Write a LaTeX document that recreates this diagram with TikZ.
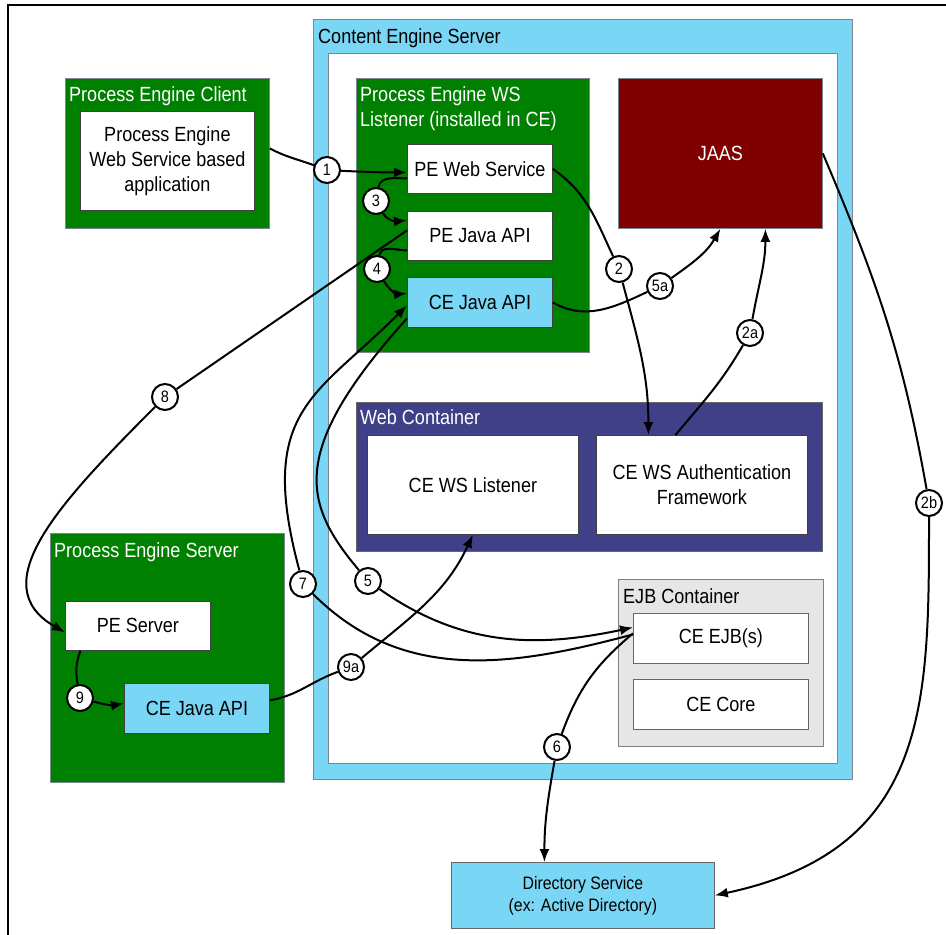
\documentclass[tikz,border=0pt]{standalone}
\usepackage{fontspec}
\setmainfont{Liberation Sans}[FakeStretch=0.88]
\usetikzlibrary{arrows.meta}

\definecolor{skyb}{RGB}{122,214,245}
\definecolor{pegreen}{RGB}{0,128,0}
\definecolor{jaasred}{RGB}{128,0,0}
\definecolor{webblue}{RGB}{64,64,136}
\definecolor{ejbgray}{RGB}{230,230,230}
\definecolor{frameg}{RGB}{125,135,145}

\begin{document}
\begin{tikzpicture}[x=1pt,y=1pt,
  font=\fontsize{20.5}{25}\selectfont,
  region/.style={draw=frameg, line width=0.8pt, inner sep=0pt, anchor=north west},
  inbox/.style={draw=black!75, line width=0.8pt, inner sep=0pt, anchor=north west, align=center},
  ttl/.style={inner sep=0pt, anchor=base west},
  num/.style={circle, draw=black, line width=2pt, fill=white, minimum size=26pt, inner sep=0pt, font=\fontsize{16.5}{16.5}\selectfont},
  conn/.style={line width=2pt},
  arr/.style={conn, -{Latex[length=13pt,width=10pt]}},
]
\useasboundingbox (0,0) rectangle (946,-935);

% outer frame (top and left)
\coordinate (fr1) at (946,-5);
\coordinate (fr2) at (8,-5);
\coordinate (fr3) at (8,-935);
\draw[line width=1.4pt] (fr1) -- (fr2) -- (fr3);

% Content Engine Server
\node[region, fill=skyb, minimum width=539pt, minimum height=760pt] (ces) at (313,-19) {};
\node[region, fill=white, minimum width=509pt, minimum height=710pt] (cesin) at (328,-53) {};
\node[ttl] (cest) at (318,-43) {Content Engine Server};

% Process Engine Client
\node[region, fill=pegreen, minimum width=204pt, minimum height=150pt] (pec) at (65,-78) {};
\node[ttl, text=white] (pect) at (69,-101) {Process Engine Client};
\node[inbox, fill=white, minimum width=174pt, minimum height=99pt] (pecapp) at (80,-111) {Process Engine\\Web Service based\\application};

% PE WS Listener
\node[region, fill=pegreen, minimum width=233pt, minimum height=274pt] (wsl) at (356,-78) {};
\node[ttl, text=white] (wslt1) at (360,-101) {Process Engine WS};
\node[ttl, text=white] (wslt2) at (360,-126) {Listener (installed in CE)};
\node[inbox, fill=white, minimum width=145pt, minimum height=49pt] (pews) at (407,-144) {PE Web Service};
\node[inbox, fill=white, minimum width=145pt, minimum height=49pt] (pejava) at (407,-211) {PE Java API};
\node[inbox, fill=skyb, minimum width=145pt, minimum height=50pt] (cejava) at (407,-277) {CE Java API};

% JAAS
\node[region, fill=jaasred, text=white, minimum width=204pt, minimum height=150pt] (jaas) at (618,-78) {JAAS};

% Web Container
\node[region, draw=black!60, fill=webblue, minimum width=466pt, minimum height=149pt] (webc) at (356,-402) {};
\node[ttl, text=white] (webct) at (360,-424) {Web Container};
\node[inbox, fill=white, minimum width=211pt, minimum height=99pt] (wslis) at (367,-435) {CE WS Listener};
\node[inbox, fill=white, minimum width=211pt, minimum height=99pt] (wsauth) at (596,-435) {CE WS Authentication\\Framework};

% EJB Container
\node[region, draw=black!50, fill=ejbgray, minimum width=205pt, minimum height=167pt] (ejbc) at (618,-579) {};
\node[ttl] (ejbct) at (623,-603) {EJB Container};
\node[inbox, draw=black!60, fill=white, minimum width=175pt, minimum height=50pt] (ejbs) at (633,-613) {CE EJB(s)};
\node[inbox, draw=black!60, fill=white, minimum width=175pt, minimum height=50pt] (core) at (633,-679) {CE Core};

% Process Engine Server
\node[region, fill=pegreen, minimum width=234pt, minimum height=249pt] (pes) at (50,-533) {};
\node[ttl, text=white] (pest) at (54,-557) {Process Engine Server};
\node[inbox, fill=white, minimum width=145pt, minimum height=49pt] (peserver) at (65,-601) {PE Server};
\node[inbox, fill=skyb, minimum width=145pt, minimum height=50pt] (pesjava) at (124,-683) {CE Java API};

% Directory Service
\node[inbox, draw=black!60, fill=skyb, minimum width=263pt, minimum height=66pt, font=\fontsize{18}{22}\selectfont] (dir) at (451,-862) {Directory Service\\(ex: Active Directory)};

% numbered circles
\node[num] (n1) at (327,-170) {1};
\node[num] (n3) at (376,-201) {3};
\node[num] (n4) at (377,-269) {4};
\node[num] (n2) at (619,-269) {2};
\node[num] (n5a) at (660,-286) {5a};
\node[num] (n2a) at (750,-333) {2a};
\node[num] (n8) at (165,-397) {8};
\node[num] (n2b) at (929,-503) {2b};
\node[num] (n7) at (303,-584) {7};
\node[num] (n5) at (368,-581) {5};
\node[num] (n9a) at (351,-667) {9a};
\node[num] (n9) at (80,-698) {9};
\node[num] (n6) at (557,-747) {6};

% connectors
\draw[conn] ([yshift=5pt]pec.east) to[out=-28,in=160] (n1);
\draw[arr] (n1) to[out=-3,in=180] ([yshift=-3.5pt]pews.west);

\draw[conn] ([yshift=-9.5pt]pews.west) to[out=180,in=80] (n3);
\draw[arr] (n3) to[out=-60,in=185] ([yshift=15.5pt]pejava.west);

\draw[conn] ([yshift=-14.5pt]pejava.west) to[out=180,in=80] (n4);
\draw[arr] (n4) to[out=-60,in=185] ([yshift=9pt]cejava.west);

\draw[conn] (pews.east) to[out=-35,in=115] (n2);
\draw[arr] (n2) to[out=-75,in=90] ([xshift=-53.5pt]wsauth.north);

\draw[conn] (cejava.east) to[out=-30,in=205] (n5a);
\draw[arr] (n5a) to[out=35,in=240] (jaas.south);

\draw[conn] ([xshift=-26.5pt]wsauth.north) to[out=50,in=240] (n2a);
\draw[arr] (n2a) to[out=80,in=-90] ([xshift=45pt]jaas.south);

\draw[conn] (jaas.east) to[out=-67,in=100] (n2b);
\draw[arr] (n2b) .. controls +(-90:200) and +(12:220) .. (dir.east);

\draw[conn] ([yshift=5.5pt]pejava.west) -- (n8);
\draw[arr] (n8) .. controls +(225:150) and +(150:95) .. ([yshift=-6.5pt]peserver.west);

\draw[conn] ([xshift=-57.5pt]peserver.south) to[out=-110,in=100] (n9);
\draw[arr] (n9) to[out=-15,in=190] ([yshift=5pt]pesjava.west);

\draw[conn] ([yshift=8pt]pesjava.east) to[out=10,in=200] (n9a);
\draw[arr] (n9a) to[out=40,in=245] (wslis.south);

\draw[conn] ([yshift=-16pt]cejava.west) .. controls +(228:180) and +(130:100) .. (n5);
\draw[arr] (n5) to[out=-35,in=192] ([yshift=11pt]ejbs.west);

\draw[conn] ([yshift=4pt]ejbs.west) to[out=195,in=-45] (n7);
\draw[arr] (n7) .. controls +(105:180) and +(225:130) .. ([yshift=-3pt]cejava.west);

\draw[conn] ([yshift=5pt]ejbs.west) to[out=220,in=70] (n6);
\draw[arr] (n6) to[out=-100,in=90] ([xshift=-38.5pt]dir.north);
\end{tikzpicture}
\end{document}
